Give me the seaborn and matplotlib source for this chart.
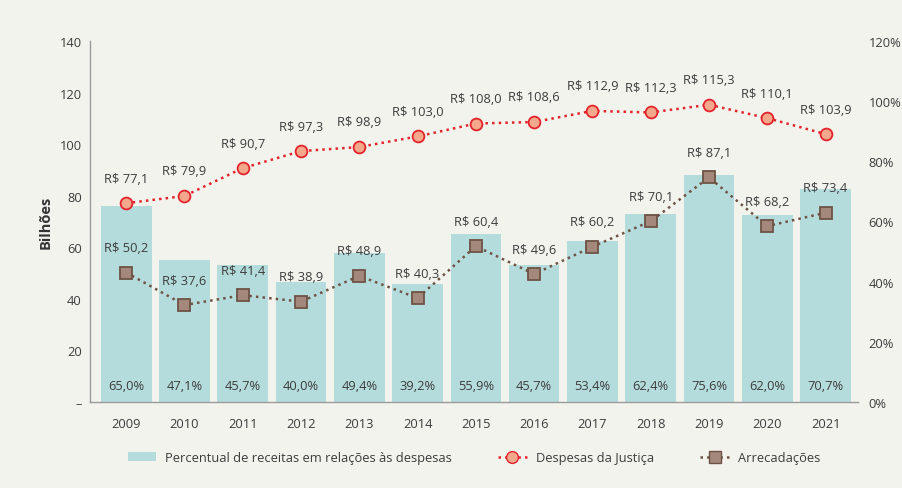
import matplotlib
matplotlib.use("Agg")
import matplotlib.pyplot as plt
import seaborn as sns
import pandas as pd
import numpy as np
from matplotlib.patches import Patch
from matplotlib.lines import Line2D

anos = ["2009", "2010", "2011", "2012", "2013", "2014", "2015",
        "2016", "2017", "2018", "2019", "2020", "2021"]
despesas = [77.1, 79.9, 90.7, 97.3, 98.9, 103.0, 108.0,
            108.6, 112.9, 112.3, 115.3, 110.1, 103.9]
arrecadacoes = [50.2, 37.6, 41.4, 38.9, 48.9, 40.3, 60.4,
                49.6, 60.2, 70.1, 87.1, 68.2, 73.4]
percentual = [65.0, 47.1, 45.7, 40.0, 49.4, 39.2, 55.9,
              45.7, 53.4, 62.4, 75.6, 62.0, 70.7]

bg = "#f3f3ee"
bar_color = "#b5dcdc"
red = "#e3232b"
red_fill = "#f5a88c"
brown = "#6e5245"
brown_fill = "#a3887b"
txt = "#3c3c3c"

sns.set_style("white")
plt.rcParams["font.family"] = ["Open Sans", "DejaVu Sans"]
fs = 9.3

df = pd.DataFrame({"ano": anos, "pos": np.arange(len(anos)),
                   "despesas": despesas, "arrecadacoes": arrecadacoes,
                   "percentual": percentual})

fig = plt.figure(figsize=(9.02, 4.89), dpi=100, facecolor=bg)
ax = fig.add_axes([0.0998, 0.176, 0.851, 0.738])
ax2 = ax.twinx()

# bars on the percent axis
sns.barplot(data=df, x="ano", y="percentual", color=bar_color, width=0.87,
            saturation=1, linewidth=0, ax=ax2)
for i, p in enumerate(percentual):
    ax2.text(i, 5.6, f"{p:.1f}%".replace(".", ","), ha="center", va="center",
             fontsize=fs, color=txt)

# lines on the value axis, drawn above the bars
ax.set_zorder(ax2.get_zorder() + 1)
ax.patch.set_visible(False)
ax2.set_facecolor(bg)

sns.lineplot(data=df, x="pos", y="despesas", ax=ax, color=red, linestyle=":",
             linewidth=1.8, marker="o", markersize=8.5, markerfacecolor=red_fill,
             markeredgecolor=red, markeredgewidth=1.3)
sns.lineplot(data=df, x="pos", y="arrecadacoes", ax=ax, color=brown, linestyle=":",
             linewidth=1.8, marker="s", markersize=8.5, markerfacecolor=brown_fill,
             markeredgecolor=brown, markeredgewidth=1.3)

for i, v in enumerate(despesas):
    ax.annotate(f"R$ {v:.1f}".replace(".", ","), (i, v), xytext=(0, 18),
                textcoords="offset points", ha="center", va="center",
                fontsize=fs, color=txt)
for i, v in enumerate(arrecadacoes):
    ax.annotate(f"R$ {v:.1f}".replace(".", ","), (i, v), xytext=(0, 18),
                textcoords="offset points", ha="center", va="center",
                fontsize=fs, color=txt)

ax.set_xlim(-0.62, 12.55)
ax2.set_xlim(-0.62, 12.55)
ax.set_ylim(0, 140)
ax2.set_ylim(0, 120)

ax.set_yticks(np.arange(0, 141, 20))
ax.set_yticklabels(["–"] + [str(t) for t in range(20, 141, 20)])
ax2.set_yticks(np.arange(0, 121, 20))
ax2.set_yticklabels([f"{t}%" for t in range(0, 121, 20)])
ax.set_xticks(np.arange(len(anos)))
ax.set_xticklabels(anos)
ax.tick_params(axis="y", length=0, labelsize=fs, colors=txt, pad=6)
ax.tick_params(axis="x", length=0, labelsize=fs, colors=txt, pad=11)
ax2.tick_params(axis="both", length=0, labelsize=fs, colors=txt, pad=8)
ax2.set_xlabel("")
ax2.set_ylabel("")
ax.set_xlabel("")
ax.set_ylabel("Bilhões", fontsize=10.5, fontweight="bold", color="#333333", labelpad=5)

for a in (ax, ax2):
    for s in ("top", "right", "left", "bottom"):
        a.spines[s].set_visible(False)
for s in ("left", "bottom"):
    ax.spines[s].set_visible(True)
    ax.spines[s].set_color("#9a9a9a")
    ax.spines[s].set_linewidth(1.0)

handles = [
    Patch(facecolor=bar_color, edgecolor="none"),
    Line2D([], [], color=red, linestyle=":", linewidth=1.8, marker="o", markersize=8.5,
           markerfacecolor=red_fill, markeredgecolor=red),
    Line2D([], [], color=brown, linestyle=":", linewidth=1.8, marker="s", markersize=8.5,
           markerfacecolor=brown_fill, markeredgecolor=brown),
]
labels = ["Percentual de receitas em relações às despesas", "Despesas da Justiça", "Arrecadações"]
leg = ax.legend(handles, labels, loc="center", bbox_to_anchor=(0.5, -0.155), ncol=3,
                frameon=False, fontsize=fs, columnspacing=3.6, handlelength=2.2,
                handletextpad=0.7)
for t in leg.get_texts():
    t.set_color(txt)

fig.savefig("out.png", dpi=100, facecolor=bg)
